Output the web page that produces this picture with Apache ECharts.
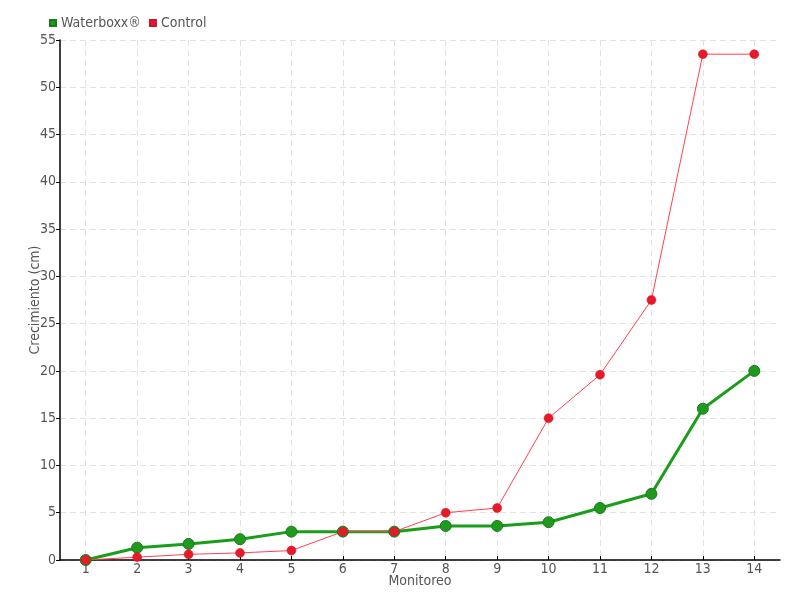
<!DOCTYPE html>
<html><head><meta charset="utf-8">
<script src="https://cdn.jsdelivr.net/npm/echarts@6/dist/echarts.min.js"></script>
<style>html,body{margin:0;padding:0;background:#fff}#c{width:800px;height:600px}</style>
</head><body><div id="c"></div>
<script>
const categories = [1,2,3,4,5,6,7,8,9,10,11,12,13,14];
const waterboxx = [0,1.3,1.7,2.2,3.0,3.0,3.0,3.6,3.6,4.0,5.5,7.0,16.0,20.0];
const control = [0,0.3,0.6,0.75,1.0,3.0,3.0,5.0,5.5,15.0,19.6,27.5,53.5,53.5];
const yTicks = [0,5,10,15,20,25,30,35,40,45,50,55];

const FONT = '"DejaVu Sans Condensed","Liberation Sans Narrow","Roboto",sans-serif';
const chart = echarts.init(document.getElementById('c'), null, {renderer:'canvas'});
const pair = arr => categories.map((c,i)=>[c, arr[i]]);
chart.setOption({
  animation:false,
  textStyle:{fontFamily:FONT},
  legend:{
    left:44, top:11, itemWidth:6, itemHeight:6, itemGap:8,
    textStyle:{fontFamily:FONT, fontSize:14, color:'#555'},
    data:[{name:'Waterboxx®', icon:'rect'},{name:'Control', icon:'rect'}]
  },
  grid:{left:60, right:20, top:40, bottom:40, containLabel:false},
  xAxis:{
    type:'value', min:0.5, max:14.5,
    name:'Monitoreo', nameLocation:'middle', nameGap:14, nameMoveOverlap:false,
    nameTextStyle:{fontFamily:FONT, fontSize:14, color:'#555'},
    axisLine:{show:true, lineStyle:{color:'#000', width:1.5}},
    axisTick:{show:true, inside:true, length:4, customValues:categories, lineStyle:{color:'#000'}},
    axisLabel:{customValues:categories, margin:2, fontFamily:FONT, fontSize:14, color:'#555'},
    splitLine:{show:true, lineStyle:{color:'#e2e2e2', type:[6,4]}}
  },
  yAxis:{
    type:'value', min:0, max:55, interval:5,
    name:'Crecimiento (cm)', nameLocation:'middle', nameGap:18, nameRotate:90, nameMoveOverlap:false,
    nameTextStyle:{fontFamily:FONT, fontSize:14, color:'#555'},
    axisLine:{show:true, lineStyle:{color:'#000', width:1.5}},
    axisTick:{show:true, length:4, lineStyle:{color:'#000'}},
    axisLabel:{margin:4, fontFamily:FONT, fontSize:14, color:'#555'},
    splitLine:{show:true, lineStyle:{color:'#e2e2e2', type:[6,4]}}
  },
  series:[
    {name:'Waterboxx®', type:'line', data:pair(waterboxx), symbol:'circle', symbolSize:11,
     color:'#1aa81a',
     lineStyle:{color:'#1a9e1a', width:3},
     itemStyle:{color:'#1f9a1f', borderColor:'#1a7a1a', borderWidth:1}},
    {name:'Control', type:'line', data:pair(control), symbol:'circle', symbolSize:9,
     color:'#ee1c2c',
     lineStyle:{color:'#ff4050', width:1},
     itemStyle:{color:'#e81a2a', borderColor:'#c8182a', borderWidth:0.5}}
  ]
});
</script></body></html>
